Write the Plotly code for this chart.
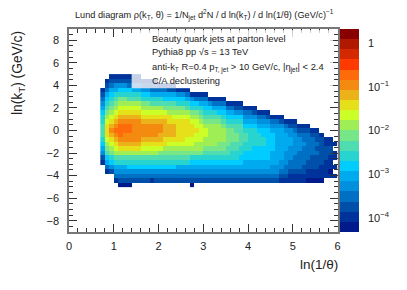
import plotly.graph_objects as go

W, H = 407, 290

# x bin lower edges run 0.7 ... 5.9 (width 0.1); y bins run 4.8 ... -4.8 (height 0.4)
x_bins = [round(0.75 + 0.1 * i, 2) for i in range(53)]
y_bins = [round(4.8 - 0.4 * i, 1) for i in range(25)]

# Colour-band index (base 20) read per column, top to bottom; '.' = empty bin
columns = [
    "...12345677888765421.....",
    ".12356789abcccba986531...",
    "12356789abcdedcba97642...",
    "1245789abcdefedcba875431.",
    "124679abcdefffedca8754320",
    "124679abcdeffeedca8754320",
    "123678abcdeffeedca8764320",
    "113578abcdeeeeedca876432.",
    "113578abcdeeeeedca876432.",
    ".124679abcdeeedcba876432.",
    ".124679abcdeeedcba876432.",
    ".123578abcdeeedcba876431.",
    ".123578abcdeeedcba876432.",
    "..13578abcdeeddcb9876432.",
    "..135689bcddddcca9876432.",
    "..125689accdddcba9876432.",
    "..125689abcdddcba9876432.",
    "...14679abcccccba9875432.",
    "...14679abcccccba9875432.",
    "...13578abccccbba9875432.",
    "....14679abcccbba97654320",
    "....13679abbcbbaa9765432.",
    "....135789abbbbaa9765432.",
    "....1356789abbaa98765432.",
    ".....146789aaaaa98765432.",
    ".....135789aaaaa98765432.",
    ".....135689aaaa998765432.",
    ".....1356789aaa998765432.",
    "......135678999988765432.",
    "......135678999887765432.",
    "......124678899887765432.",
    "......124678888877665432.",
    ".......13456788776655432.",
    ".......13456777776655432.",
    ".......12456777766655432.",
    "........1345677766655432.",
    "........1345667766655432.",
    "........1245666666655432.",
    ".........134566665554432.",
    ".........134555555554432.",
    ".........124555555544321.",
    "..........13455554443321.",
    "..........12445544433211.",
    "..........12344444333211.",
    "...........1234443333211.",
    "...........1233433332211.",
    "...........1233333322110.",
    "............123333222110.",
    "............122323222110.",
    ".............12222221110.",
    "..............112221111..",
    "..............112211101..",
    "...............1.11.1.1..",
]

band_colors = [
    "#001a8c", "#00329b", "#0050aa", "#0070c4", "#0090dd",
    "#00aaee", "#00ccff", "#28d4d0", "#4fdcb0", "#77e688",
    "#a0ee55", "#ccff28", "#e6e01a", "#ecb21a", "#f58a10",
    "#ff6a0a", "#ff3a00", "#d42800", "#b01800", "#880000",
]
log_min, log_max = -4.32, 0.32
cbar_major = [1e-4, 1e-3, 1e-2, 1e-1, 1]
cbar_labels = ["10<sup>−4</sup>", "10<sup>−3</sup>", "10<sup>−2</sup>", "10<sup>−1</sup>", "1"]
cbar_minor = [m * d for d in [1e-5, 1e-4, 1e-3, 1e-2, 1e-1, 1] for m in range(2, 10)
              if 10 ** log_min < m * d < 10 ** log_max]

n = len(band_colors)
step = (log_max - log_min) / n
z = []
for r in range(len(y_bins)):
    row = []
    for col in columns:
        ch = col[r]
        row.append(None if ch == "." else log_min + (int(ch, 20) + 0.5) * step)
    z.append(row)

scale = []
for i, c in enumerate(band_colors):
    scale += [[i / n, c], [(i + 1) / n, c]]

px = lambda v: v / W
py = lambda v: 1 - v / H

INK = "#222222"
FONT = "Liberation Sans"

fig = go.Figure()
fig.add_trace(go.Heatmap(
    x=x_bins, y=y_bins, z=z, zmin=log_min, zmax=log_max, colorscale=scale,
    hoverongaps=False,
    colorbar=dict(x=px(339.5), xanchor="left", xpad=0, ypad=0, y=py(130.5), yanchor="middle",
                  len=203 / H, thickness=18.5, outlinewidth=0, ticks="", showticklabels=False),
))
fig.add_trace(go.Scatter(x=[None], y=[1], yaxis="y2", mode="markers", showlegend=False,
                         marker=dict(opacity=0), hoverinfo="skip"))

axis_common = dict(showgrid=False, zeroline=False, showline=True, linecolor="#777777", linewidth=1.5,
                   mirror="ticks", ticks="inside", tickcolor="#333333", tickwidth=1, ticklen=8,
                   tickfont=dict(size=11, color=INK, family=FONT))
fig.update_layout(
    width=W, height=H, autosize=False,
    margin=dict(l=0, r=0, t=0, b=0, autoexpand=False),
    paper_bgcolor="white", plot_bgcolor="white",
    font=dict(family=FONT, color=INK),
    showlegend=False,
    xaxis=dict(domain=[px(69), px(337.5)], range=[0, 6], tick0=0, dtick=1, ticklabelstandoff=3,
               minor=dict(ticks="inside", dtick=0.2, ticklen=4, tickcolor="#333333", tickwidth=1, showgrid=False),
               **axis_common),
    yaxis=dict(domain=[py(232), py(29)], range=[-9, 9], tick0=-8, dtick=2, ticklabelstandoff=6,
               minor=dict(ticks="inside", dtick=0.5, ticklen=4, tickcolor="#333333", tickwidth=1, showgrid=False),
               **axis_common),
    yaxis2=dict(overlaying="y", anchor="free", position=px(358), side="right", type="log",
                range=[log_min, log_max], showgrid=False, zeroline=False, showline=False,
                ticks="inside", ticklen=9, tickcolor="#222222", tickwidth=1,
                tickvals=cbar_major, ticktext=cbar_labels, ticklabelstandoff=9,
                tickfont=dict(size=11, color=INK, family=FONT),
                minor=dict(ticks="inside", ticklen=4, tickvals=cbar_minor, tickcolor="#222222",
                           tickwidth=1, showgrid=False)),
)
fig.add_shape(type="rect", xref="x", yref="y", x0=1.4, x1=5.9, y0=3.74, y1=8.9,
              fillcolor="white", opacity=0.78, line_width=0)

def note(x, y, text, size, **kw):
    fig.add_annotation(xref="paper", yref="paper", x=px(x), y=py(y), text=text, showarrow=False,
                       font=dict(size=size, color=INK, family=FONT), xanchor=kw.pop("xanchor", "left"),
                       yanchor="middle", align="left", **kw)

note(204, 15, "Lund diagram ρ(k<sub>T</sub>, θ) = 1/N<sub>jet</sub> d<sup>2</sup>N / d ln(k<sub>T</sub>) / d ln(1/θ) (GeV/c)<sup>−1</sup>",
     9.2, xanchor="center")
note(150, 38.5, "Beauty quark jets at parton level", 9.35)
note(150, 52.5, "Pythia8 pp √s = 13 TeV", 9.35)
note(150, 68.5, "anti-k<sub>T</sub> R=0.4 p<sub>T, jet</sub> > 10 GeV/c, |η<sub>jet</sub>| < 2.4", 9.35)
note(150, 81.5, "C/A declustering", 9.35)
note(340, 264, "ln(1/θ)", 13.5, xanchor="right")
fig.add_annotation(xref="paper", yref="paper", x=px(18), y=py(29), text="ln(k<sub>T</sub>) (GeV/c)",
                   showarrow=False, textangle=-90, xanchor="center", yanchor="top",
                   font=dict(size=13.8, color=INK, family=FONT))

fig.write_html("out.html", config={"displayModeBar": False},
               post_script="document.body.style.margin='0';document.documentElement.style.overflow='hidden';")
